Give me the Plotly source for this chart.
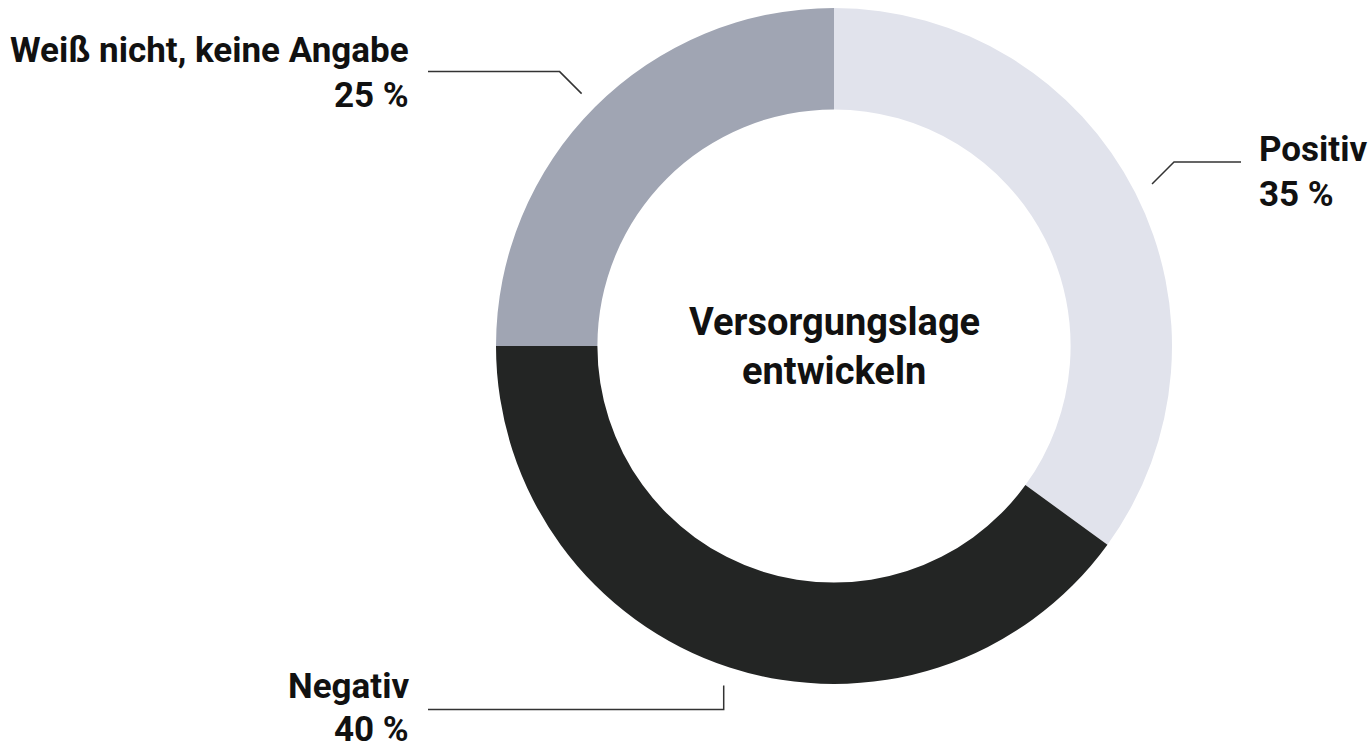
import math
import plotly.graph_objects as go

# ---- data ----
labels = ["Positiv", "Negativ", "Weiß nicht, keine Angabe"]
values = [35, 40, 25]
colors = ["#e1e3ec", "#232524", "#a0a5b3"]
center_lines = ["Versorgungslage", "entwickeln"]

# ---- geometry (pixels) ----
W, H = 1370, 749
CX, CY, R = 834, 346, 338
HOLE = 0.70
FONT = "Roboto, sans-serif"
FS = 35
FS_CENTER = 38


def px(x):
    return x / W


def py(y):
    return 1 - y / H


fig = go.Figure()
fig.add_trace(go.Pie(
    labels=labels, values=values, sort=False, direction="clockwise", rotation=0,
    hole=HOLE, marker=dict(colors=colors, line=dict(width=0)),
    textinfo="none", showlegend=False, hoverinfo="label+percent",
    domain=dict(x=[px(CX - R), px(CX + R)], y=[py(CY + R), py(CY - R)]),
))

# leader lines from slice mid-angles
total = sum(values)
cum = 0
shapes = []
annotations = []
for lab, v in zip(labels, values):
    mid = (cum + v / 2) / total * 2 * math.pi
    cum += v
    r0 = R * 1.056
    x0 = CX + r0 * math.sin(mid)
    y0 = CY - r0 * math.cos(mid)
    sx = 1 if math.sin(mid) > 0 else -1
    bottom = abs(math.cos(mid)) > 0.9
    if bottom:  # bottom slice: vertical elbow
        x1, y1 = x0, y0 + 24
    else:
        d = 22
        x1 = x0 + sx * d
        y1 = y0 - d if math.cos(mid) > 0 else y0 + d
    if sx > 0:
        x2 = x1 + 67
        tx, anchor = x2 + 17, "left"
    else:
        x2 = 428
        tx, anchor = 410, "right"
    path = f"M {px(x0)} {py(y0)} L {px(x1)} {py(y1)} L {px(x2)} {py(y1)}"
    shapes.append(dict(type="path", xref="paper", yref="paper", path=path,
                       line=dict(color="#333333", width=1.5)))
    # label + percentage
    if sx > 0:
        ly, gap = y1 - 12, 45
    elif bottom:
        ly, gap = y1 - 23, 43
    else:
        ly, gap = y1 - 21, 45
    annotations.append(dict(x=px(tx), y=py(ly), xref="paper", yref="paper",
                            text=lab, showarrow=False, xanchor=anchor, yanchor="middle",
                            borderpad=0,
                            font=dict(family=FONT, size=FS, color="#111111", weight="bold")))
    annotations.append(dict(x=px(tx), y=py(ly + gap), xref="paper", yref="paper",
                            text=f"{v} %", showarrow=False, xanchor=anchor, yanchor="middle",
                            borderpad=0,
                            font=dict(family=FONT, size=FS, color="#111111", weight="bold")))

for i, t in enumerate(center_lines):
    annotations.append(dict(x=px(CX), y=py(CY - 24 + i * 49), xref="paper", yref="paper",
                            text=t, showarrow=False, xanchor="center", yanchor="middle",
                            font=dict(family=FONT, size=FS_CENTER, color="#111111", weight="bold")))

fig.update_layout(
    width=W, height=H, margin=dict(l=0, r=0, t=0, b=0),
    paper_bgcolor="white", plot_bgcolor="white",
    shapes=shapes, annotations=annotations,
)

fig.write_html("out.html", config={"displayModeBar": False},
               post_script="document.body.style.margin='0';")
